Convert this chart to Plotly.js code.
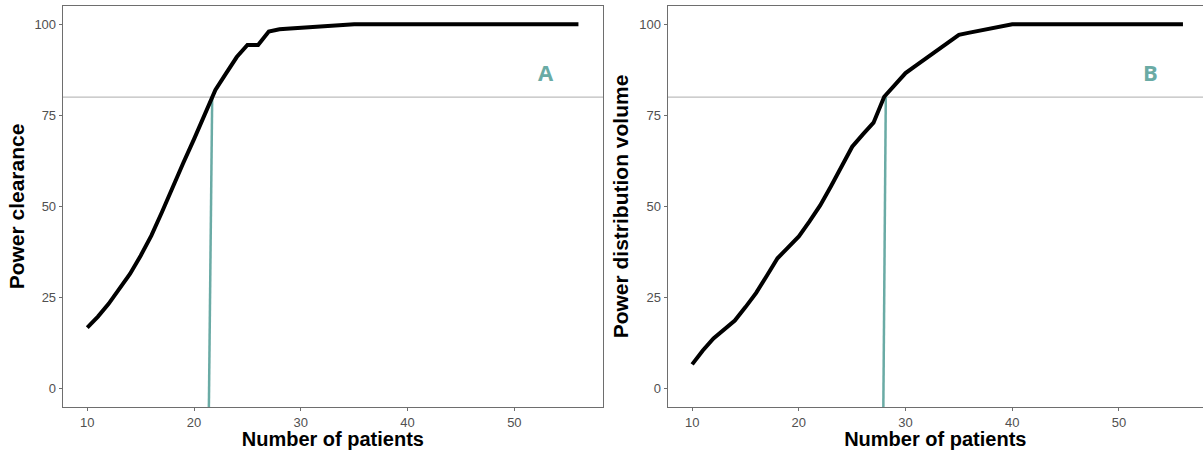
<!DOCTYPE html>
<html>
<head>
<meta charset="utf-8">
<script src="https://cdn.plot.ly/plotly-3.0.1.min.js"></script>
<style>html,body{margin:0;padding:0;background:#fff;overflow:hidden}#chart{width:1203px;height:450px}</style>
</head>
<body>
<div id="chart"></div>
<script>
// Panel A: power for clearance
const patientsA = [10,11,12,13,14,15,16,17,18,19,20,21,22,23,24,25,26,27,28,29,30,31,32,33,34,35,36,37,38,39,40,41,42,43,44,45,46,47,48,49,50,51,52,53,54,55,56];
const powerClearance = [16.8,19.8,23.3,27.3,31.5,36.5,42,48.5,55.5,62,68.5,75,82,86.5,91,94.3,94.3,98,98.6,98.8,99,99.3,99.5,99.7,99.9,100,100,100,100,100,100,100,100,100,100,100,100,100,100,100,100,100,100,100,100,100,100];
// Panel B: power for distribution volume
const patientsB = [10,11,12,13,14,15,16,17,18,19,20,21,22,23,24,25,26,27,28,29,30,31,32,33,34,35,36,37,38,39,40,41,42,43,44,45,46,47,48,49,50,51,52,53,54,55,56];
const powerVolume = [6.7,10.5,13.8,16.3,18.7,22.4,26.3,31,35.8,38.8,41.8,45.9,50.3,55.5,61,66.4,69.8,73,80.1,83.4,86.6,88.7,90.8,92.9,95,97.1,97.7,98.3,98.8,99.4,100,100,100,100,100,100,100,100,100,100,100,100,100,100,100,100,100];
// Threshold line and required sample-size markers
const powerTarget = 80;
const cutA_x = [21.39, 21.7];
const cutA_y = [-5, 80];
const cutB_x = [27.92, 28.15];
const cutB_y = [-5, 80];
const panelLabels = ["A", "B"];
const labelPos = [53, 87];
const yTicks = [0, 25, 50, 75, 100];
const xTicks = [10, 20, 30, 40, 50];

const teal = '#6aaba5';
const fontFam = 'Arial, "Liberation Sans", sans-serif';

const traces = [
  {x: cutA_x, y: cutA_y, xaxis: 'x', yaxis: 'y', mode: 'lines', line: {color: teal, width: 2.5}, hoverinfo: 'skip'},
  {x: patientsA, y: powerClearance, xaxis: 'x', yaxis: 'y', mode: 'lines', line: {color: '#000', width: 4}, hoverinfo: 'skip'},
  {x: cutB_x, y: cutB_y, xaxis: 'x2', yaxis: 'y2', mode: 'lines', line: {color: teal, width: 2.5}, hoverinfo: 'skip'},
  {x: patientsB, y: powerVolume, xaxis: 'x2', yaxis: 'y2', mode: 'lines', line: {color: '#000', width: 4}, hoverinfo: 'skip'}
];

const W = 1203, H = 450;
const pxPerUnit = 10.67;
const axisCommon = {
  showgrid: false, zeroline: false, showline: true, linecolor: '#6e6e6e', linewidth: 1,
  ticks: 'outside', ticklen: 3, tickcolor: '#6e6e6e', tickwidth: 1,
  tickfont: {family: fontFam, size: 13, color: '#505050'}, automargin: false
};
const titleFont = {family: fontFam, size: 21, color: '#000', weight: 'bold'};
const xTitleFont = {family: fontFam, size: 20, color: '#000', weight: 'bold'};

const layout = {
  width: W, height: H,
  margin: {l: 0, r: 0, t: 6, b: 43},
  paper_bgcolor: '#fff', plot_bgcolor: '#fff',
  showlegend: false,
  xaxis: Object.assign({}, axisCommon, {
    domain: [62.7 / W, 603 / W], range: [7.7, 58.3], tickvals: xTicks, mirror: true, anchor: 'y',
    title: {text: '<b>Number of patients</b>', font: xTitleFont, standoff: 4}
  }),
  yaxis: Object.assign({}, axisCommon, {
    domain: [0, 1], range: [-5, 105], tickvals: yTicks, mirror: true, anchor: 'x',
    title: {text: '<b>Power clearance</b>', font: titleFont, standoff: 4}
  }),
  xaxis2: Object.assign({}, axisCommon, {
    domain: [667.6 / W, 1], range: [7.7, 7.7 + (W - 667.6) / pxPerUnit], tickvals: xTicks, mirror: true, anchor: 'y2',
    title: {text: '<b>Number of patients</b>', font: xTitleFont, standoff: 4}
  }),
  yaxis2: Object.assign({}, axisCommon, {
    domain: [0, 1], range: [-5, 105], tickvals: yTicks, mirror: false, anchor: 'x2',
    title: {text: '<b>Power distribution volume</b>', font: titleFont, standoff: 4}
  }),
  shapes: [
    {type: 'line', xref: 'x domain', yref: 'y', x0: 0, x1: 1, y0: powerTarget, y1: powerTarget, line: {color: '#bdbdbd', width: 1.2}, layer: 'below'},
    {type: 'line', xref: 'x2 domain', yref: 'y2', x0: 0, x1: 1, y0: powerTarget, y1: powerTarget, line: {color: '#bdbdbd', width: 1.2}, layer: 'below'}
  ],
  annotations: [
    {text: '<b>' + panelLabels[0] + '</b>', xref: 'x', yref: 'y', x: labelPos[0], y: labelPos[1], showarrow: false, font: {family: '"Open Sans", sans-serif', size: 22, color: teal}},
    {text: '<b>' + panelLabels[1] + '</b>', xref: 'x2', yref: 'y2', x: labelPos[0], y: labelPos[1], showarrow: false, font: {family: '"Open Sans", sans-serif', size: 22, color: teal}}
  ]
};

Plotly.newPlot('chart', traces, layout, {displayModeBar: false, staticPlot: true});
</script>
</body>
</html>
